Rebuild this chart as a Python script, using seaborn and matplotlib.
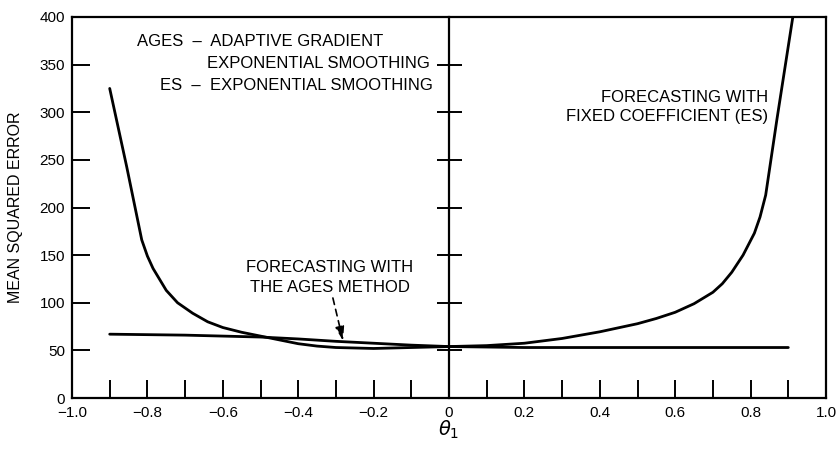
import matplotlib
matplotlib.use("Agg")
import matplotlib.pyplot as plt
import seaborn as sns
import pandas as pd
import numpy as np

# ---- data ----
theta_es = [-0.9, -0.855, -0.815, -0.8, -0.785, -0.75, -0.72, -0.68, -0.64, -0.6, -0.55, -0.5,
            -0.45, -0.4, -0.35, -0.3, -0.2, -0.1, 0.0, 0.1, 0.2, 0.3, 0.4, 0.5, 0.55, 0.6,
            0.65, 0.7, 0.725, 0.75, 0.78, 0.81, 0.825, 0.84, 0.87, 0.912]
mse_es = [325, 243, 166, 149, 136, 113, 100, 89, 80, 74, 69, 65,
          61, 57, 54.5, 53, 52, 53, 54, 55, 57.5, 62.5, 69.5, 78, 83.5, 90,
          99, 111, 120, 132, 150, 173, 190, 213, 293, 400]

theta_ages = [-0.9, -0.7, -0.5, -0.4, -0.3, -0.2, -0.1, 0.0, 0.2, 0.5, 0.9]
mse_ages = [67, 66, 64, 62, 59.5, 57.5, 55.5, 54, 53, 53, 53]

yticks = [0, 50, 100, 150, 200, 250, 300, 350, 400]
xticks = [-1.0, -0.8, -0.6, -0.4, -0.2, 0, 0.2, 0.4, 0.6, 0.8, 1.0]
xminor = [-0.9, -0.7, -0.5, -0.3, -0.1, 0.1, 0.3, 0.5, 0.7, 0.9]
xticklabels = ["\u22121.0", "\u22120.8", "\u22120.6", "\u22120.4", "\u22120.2", "0",
               "0.2", "0.4", "0.6", "0.8", "1.0"]

df = pd.concat([
    pd.DataFrame({"theta": theta_es, "mse": mse_es, "method": "ES"}),
    pd.DataFrame({"theta": theta_ages, "mse": mse_ages, "method": "AGES"}),
])

sns.set_theme(style="white")
plt.rcParams["font.family"] = ["Liberation Sans", "DejaVu Sans"]
plt.rcParams.update({"text.color": "black", "axes.labelcolor": "black",
                     "xtick.color": "black", "ytick.color": "black",
                     "axes.edgecolor": "black"})

fig = plt.figure(figsize=(8.4, 4.49), dpi=100)
ax = fig.add_axes([72 / 840, 1 - 398 / 449, 754 / 840, 381 / 449])

sns.lineplot(data=df, x="theta", y="mse", hue="method", units="method",
             estimator=None, sort=False, palette={"ES": "black", "AGES": "black"},
             linewidth=2.0, legend=False, ax=ax)

ax.set_xlim(-1.0, 1.0)
ax.set_ylim(0, 400)
ax.set_xticks(xticks)
ax.set_xticklabels(xticklabels)
ax.set_xticks(xminor, minor=True)
ax.set_yticks(yticks)
ax.tick_params(axis="x", which="both", direction="in", length=13, width=1.4,
               color="black", labelcolor="black", labelsize=11, pad=6,
               top=False, bottom=True)
ax.tick_params(axis="y", which="both", direction="in", length=13, width=1.4,
               color="black", labelcolor="black", labelsize=11, pad=5,
               left=True, right=False)
# hide ticks at the axis ends
for t in ax.xaxis.get_major_ticks():
    if abs(abs(t.get_loc()) - 1.0) < 1e-9 or abs(t.get_loc()) < 1e-9:
        t.tick1line.set_visible(False)
for t in ax.yaxis.get_major_ticks():
    if t.get_loc() in (0, 400):
        t.tick1line.set_visible(False)

for s in ax.spines.values():
    s.set_visible(True)
    s.set_color("black")
    s.set_linewidth(1.6)

# central axis at theta = 0 with crossing ticks
sec = ax.secondary_yaxis(0.5)
sec.set_yticks(yticks[1:-1])
sec.tick_params(direction="inout", length=18, width=1.4, color="black",
                labelleft=False, labelright=False)
for side in ("left", "right"):
    sec.spines[side].set_linewidth(1.6)
    sec.spines[side].set_color("black")

ax.set_xlabel(r"$\theta_1$", fontsize=14, color="black")
ax.xaxis.set_label_coords(0.5, -(419 - 398) / 381)
ax.set_ylabel("MEAN SQUARED ERROR", fontsize=11.5, color="black")
ax.yaxis.set_label_coords((23 - 72) / 754, 0.5)

# text annotations
tr = ax.transAxes
def px(x, y):
    return ((x - 72) / 754, (398 - y) / 381)

fs = 12
kw = dict(transform=tr, fontsize=fs, color="black", va="center")
ax.text(*px(137, 41), "AGES  \u2013  ADAPTIVE GRADIENT", ha="left", **kw)
ax.text(*px(207, 64), "EXPONENTIAL SMOOTHING", ha="left", **kw)
ax.text(*px(160, 86), "ES  \u2013  EXPONENTIAL SMOOTHING", ha="left", **kw)
ax.text(*px(768, 97), "FORECASTING WITH", ha="right", **kw)
ax.text(*px(768, 116), "FIXED COEFFICIENT (ES)", ha="right", **kw)
ax.text(*px(330, 268), "FORECASTING WITH", ha="center", **kw)
ax.text(*px(330, 287), "THE AGES METHOD", ha="center", **kw)

ax.annotate("", xy=(-0.281, 60), xytext=(-0.308, 105),
            arrowprops=dict(arrowstyle="-|>,head_length=0.7,head_width=0.22",
                            linestyle=(0, (4, 3)), lw=1.2, color="black",
                            shrinkA=0, shrinkB=0))

fig.savefig("out.png", dpi=100)
